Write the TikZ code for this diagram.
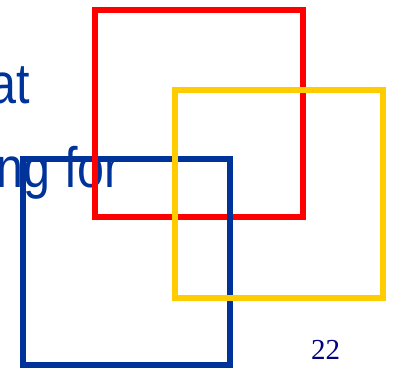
\documentclass[tikz,border=0pt]{standalone}
\usepackage{xcolor}
\usepackage{fontspec}
\usepackage{tikz}
\newfontfamily\narrowsans[FakeStretch=0.85]{Liberation Sans}
\newfontfamily\slideserif{Liberation Serif}
\definecolor{squarered}{HTML}{FF0000}
\definecolor{squareyellow}{HTML}{FFCC00}
\definecolor{squareblue}{HTML}{003399}
\definecolor{pagenavy}{HTML}{000080}

\begin{document}
\begin{tikzpicture}[
        x=1pt,
        y=-1pt,
        frame/.style={line width=6pt},
        titletext/.style={inner sep=0pt, anchor=base east, text=squareblue,
            font=\narrowsans\fontsize{57}{64}\selectfont}
    ]
        \useasboundingbox (0,0) rectangle (396,368);

        % title lines, cut at the left edge
        \node[titletext] (titleone) at (30,103) {at};
        \node[titletext] (titletwo) at (121,187) {ng for};

        \draw[frame, squareblue] (23,159) rectangle (230,365);
        \draw[frame, squarered] (95,10) rectangle (303,217);
        \draw[frame, squareblue] (230,159) -- (230,365);
        \draw[frame, squareyellow] (175,90) rectangle (383,298);

        \node[inner sep=0pt, anchor=base west, text=pagenavy,
            font=\slideserif\fontsize{29}{32}\selectfont] (pagenum) at (311,359) {22};
    \end{tikzpicture}
\end{document}
